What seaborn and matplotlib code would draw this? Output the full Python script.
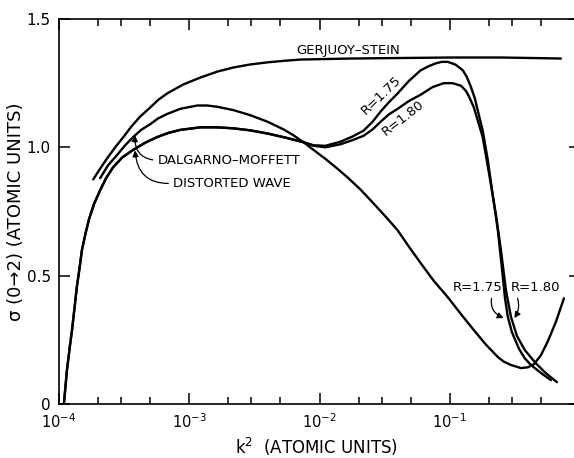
import numpy as np
import pandas as pd
import matplotlib
matplotlib.use("Agg")
import matplotlib.pyplot as plt
from matplotlib.ticker import LogLocator, NullFormatter, FixedLocator
import seaborn as sns

# Gerjuoy-Stein cross section
gs_k2 = [1.83e-4, 2.07e-4, 2.34e-4, 2.70e-4, 3.11e-4, 3.58e-4, 4.20e-4, 5.01e-4,
         5.78e-4, 6.77e-4, 9.0e-4, 1.22e-3, 1.64e-3, 2.18e-3, 2.95e-3, 3.98e-3,
         5.29e-3, 7.14e-3, 1.11e-2, 1.73e-2, 4.20e-2, 0.102, 0.247, 0.714]
gs_sigma = [0.875, 0.917, 0.957, 1.0, 1.039, 1.08, 1.12, 1.155,
            1.185, 1.21, 1.245, 1.272, 1.295, 1.311, 1.323, 1.331,
            1.337, 1.342, 1.344, 1.346, 1.348, 1.35, 1.35, 1.346]

# Dalgarno-Moffett cross section
dm_k2 = [2.07e-4, 2.38e-4, 2.79e-4, 3.22e-4, 3.71e-4, 4.27e-4, 5.01e-4, 5.78e-4,
         6.77e-4, 8.53e-4, 1.15e-3, 1.37e-3, 1.64e-3, 2.18e-3, 2.95e-3, 3.98e-3,
         5.29e-3, 6.31e-3, 7.53e-3, 9.0e-3, 1.11e-2, 1.35e-2, 1.64e-2, 2.07e-2,
         2.56e-2, 3.22e-2, 3.98e-2, 4.84e-2, 5.98e-2, 7.53e-2, 9.66e-2, 0.122,
         0.153, 0.189, 0.234, 0.260, 0.295, 0.352, 0.398, 0.443, 0.501, 0.567,
         0.653, 0.753]
dm_sigma = [0.88, 0.93, 0.97, 1.008, 1.04, 1.068, 1.09, 1.113,
            1.13, 1.15, 1.163, 1.163, 1.158, 1.145, 1.125, 1.10,
            1.07, 1.047, 1.02, 0.99, 0.955, 0.92, 0.883, 0.835,
            0.785, 0.73, 0.677, 0.614, 0.549, 0.48, 0.416, 0.35,
            0.288, 0.232, 0.183, 0.165, 0.152, 0.14, 0.143, 0.155, 0.19, 0.245,
            0.32, 0.412]

# Distorted wave, low-energy branch (common to both R values)
dw_k2 = [1.09e-4, 1.122e-4, 1.15e-4, 1.205e-4, 1.26e-4, 1.316e-4, 1.37e-4, 1.438e-4,
         1.50e-4, 1.599e-4, 1.70e-4, 1.86e-4, 2.07e-4, 2.30e-4, 2.60e-4, 3.05e-4,
         3.71e-4, 4.59e-4, 5.67e-4, 6.89e-4, 8.53e-4, 1.22e-3, 1.64e-3, 2.18e-3,
         2.95e-3, 3.98e-3, 5.47e-3, 7.53e-3]
dw_sigma = [0.0, 0.07, 0.13, 0.215, 0.29, 0.375, 0.455, 0.53,
            0.6, 0.665, 0.72, 0.78, 0.833, 0.88, 0.922, 0.96,
            0.99, 1.018, 1.04, 1.056, 1.068, 1.078, 1.078, 1.074,
            1.066, 1.054, 1.038, 1.02]

# Distorted wave, R = 1.75
r175_k2 = [9.0e-3, 1.11e-2, 1.45e-2, 1.79e-2, 2.18e-2, 2.56e-2, 2.95e-2, 3.40e-2,
           3.98e-2, 4.84e-2, 5.98e-2, 6.89e-2, 7.80e-2, 8.67e-2, 9.66e-2, 0.111,
           0.126, 0.135, 0.145, 0.156, 0.164, 0.179, 0.196, 0.214, 0.234, 0.251,
           0.265, 0.279, 0.300, 0.340, 0.377, 0.420, 0.501, 0.547, 0.598]
r175_sigma = [1.008, 1.006, 1.022, 1.042, 1.065, 1.10, 1.14, 1.175,
              1.21, 1.258, 1.30, 1.316, 1.327, 1.333, 1.333, 1.322,
              1.30, 1.275, 1.237, 1.19, 1.144, 1.066, 0.95, 0.813, 0.677, 0.533,
              0.416, 0.34, 0.28, 0.215, 0.178, 0.152, 0.121, 0.107, 0.093]

# Distorted wave, R = 1.80
r180_k2 = [9.0e-3, 1.11e-2, 1.45e-2, 1.79e-2, 2.18e-2, 2.56e-2, 2.95e-2, 3.40e-2,
           3.98e-2, 4.84e-2, 5.98e-2, 7.40e-2, 9.0e-2, 0.105, 0.122, 0.133,
           0.140, 0.153, 0.164, 0.179, 0.2, 0.226, 0.247, 0.270, 0.295, 0.328,
           0.377, 0.459, 0.547, 0.665]
r180_sigma = [1.006, 1.0, 1.012, 1.028, 1.045, 1.07, 1.10, 1.128,
              1.15, 1.18, 1.205, 1.235, 1.25, 1.25, 1.24, 1.22,
              1.20, 1.156, 1.105, 1.04, 0.9, 0.74, 0.6, 0.444, 0.34, 0.265,
              0.21, 0.158, 0.12, 0.085]

x_ticks = [1e-4, 1e-3, 1e-2, 1e-1]
x_tick_labels = [r"$10^{-4}$", r"$10^{-3}$", r"$10^{-2}$", r"$10^{-1}$"]
y_ticks = [0, 0.5, 1.0, 1.5]
y_tick_labels = ["0", "0.5", "1.0", "1.5"]

frames = [
    pd.DataFrame({"k2": gs_k2, "sigma": gs_sigma, "curve": "GS"}),
    pd.DataFrame({"k2": dm_k2, "sigma": dm_sigma, "curve": "DM"}),
    pd.DataFrame({"k2": dw_k2 + r175_k2, "sigma": dw_sigma + r175_sigma, "curve": "R175"}),
    pd.DataFrame({"k2": dw_k2 + r180_k2, "sigma": dw_sigma + r180_sigma, "curve": "R180"}),
]
df = pd.concat(frames, ignore_index=True)

sns.set_theme(style="ticks")
plt.rcParams["font.family"] = ["DejaVu Sans"]
plt.rcParams["mathtext.fontset"] = "dejavusans"
plt.rcParams["text.color"] = "black"
plt.rcParams["axes.labelcolor"] = "black"
plt.rcParams["xtick.color"] = "black"
plt.rcParams["ytick.color"] = "black"

fig = plt.figure(figsize=(5.74, 4.58), dpi=100)
fig.patch.set_facecolor("white")
ax = fig.add_axes([59 / 574, 54 / 458, (580 - 59) / 574, 385 / 458])
ax.set_facecolor("white")

sns.lineplot(data=df, x="k2", y="sigma", units="curve", estimator=None,
             sort=False, color="black", linewidth=1.7, ax=ax)

ax.set_xscale("log")
ax.set_xlim(1e-4, 1.0)
ax.set_ylim(0, 1.5)

ax.xaxis.set_major_locator(FixedLocator(x_ticks))
ax.set_xticklabels(x_tick_labels)
ax.xaxis.set_minor_locator(LogLocator(base=10, subs=[2, 3, 5]))
ax.xaxis.set_minor_formatter(NullFormatter())
ax.set_yticks(y_ticks)
ax.set_yticklabels(y_tick_labels)

ax.tick_params(which="both", direction="in", top=True, right=True,
               bottom=True, left=True, color="black", labelcolor="black", width=1.1)
ax.tick_params(which="major", length=8, labelsize=11, pad=6)
ax.tick_params(axis="x", which="major", labelsize=10.5, pad=6)
ax.tick_params(which="minor", length=5)

for side in ["top", "bottom", "left", "right"]:
    ax.spines[side].set_color("black")
    ax.spines[side].set_linewidth(1.2)

ax.set_xlabel(r"k$^2$  (ATOMIC UNITS)", fontsize=12, color="black")
ax.set_ylabel(r"σ (0→2) (ATOMIC UNITS)", fontsize=13, color="black")
ax.xaxis.set_label_coords(0.495, -0.084)
ax.yaxis.set_label_coords(-0.066, 0.5)

txt = dict(fontsize=9.5, color="black")
arrow = dict(arrowstyle="-|>", color="black", lw=0.9, mutation_scale=9,
             shrinkA=1, shrinkB=0)

ax.text(6.6e-3, 1.378, "GERJUOY–STEIN", ha="left", va="center", **txt)

ax.annotate("DALGARNO–MOFFETT", xy=(3.84e-4, 1.047), xytext=(5.7e-4, 0.949),
            ha="left", va="center",
            arrowprops=dict(connectionstyle="arc3,rad=-0.5", relpos=(0, 0.5), **arrow),
            **txt)
ax.annotate("DISTORTED WAVE", xy=(3.84e-4, 0.988), xytext=(7.5e-4, 0.86),
            ha="left", va="center",
            arrowprops=dict(connectionstyle="arc3,rad=-0.5", relpos=(0, 0.5), **arrow),
            **txt)

ax.text(3.0e-2, 1.205, "R=1.75", ha="center", va="center", rotation=44, **txt)
ax.text(4.35e-2, 1.113, "R=1.80", ha="center", va="center", rotation=38, **txt)

ax.annotate("R=1.75", xy=(0.259, 0.335), xytext=(0.164, 0.455),
            ha="center", va="center",
            arrowprops=dict(connectionstyle="arc3,rad=0.45", relpos=(0.8, 0), **arrow),
            **txt)
ax.annotate("R=1.80", xy=(0.313, 0.335), xytext=(0.454, 0.455),
            ha="center", va="center",
            arrowprops=dict(connectionstyle="arc3,rad=-0.3", relpos=(0.1, 0), **arrow),
            **txt)

fig.savefig("out.png", dpi=100, facecolor="white")
